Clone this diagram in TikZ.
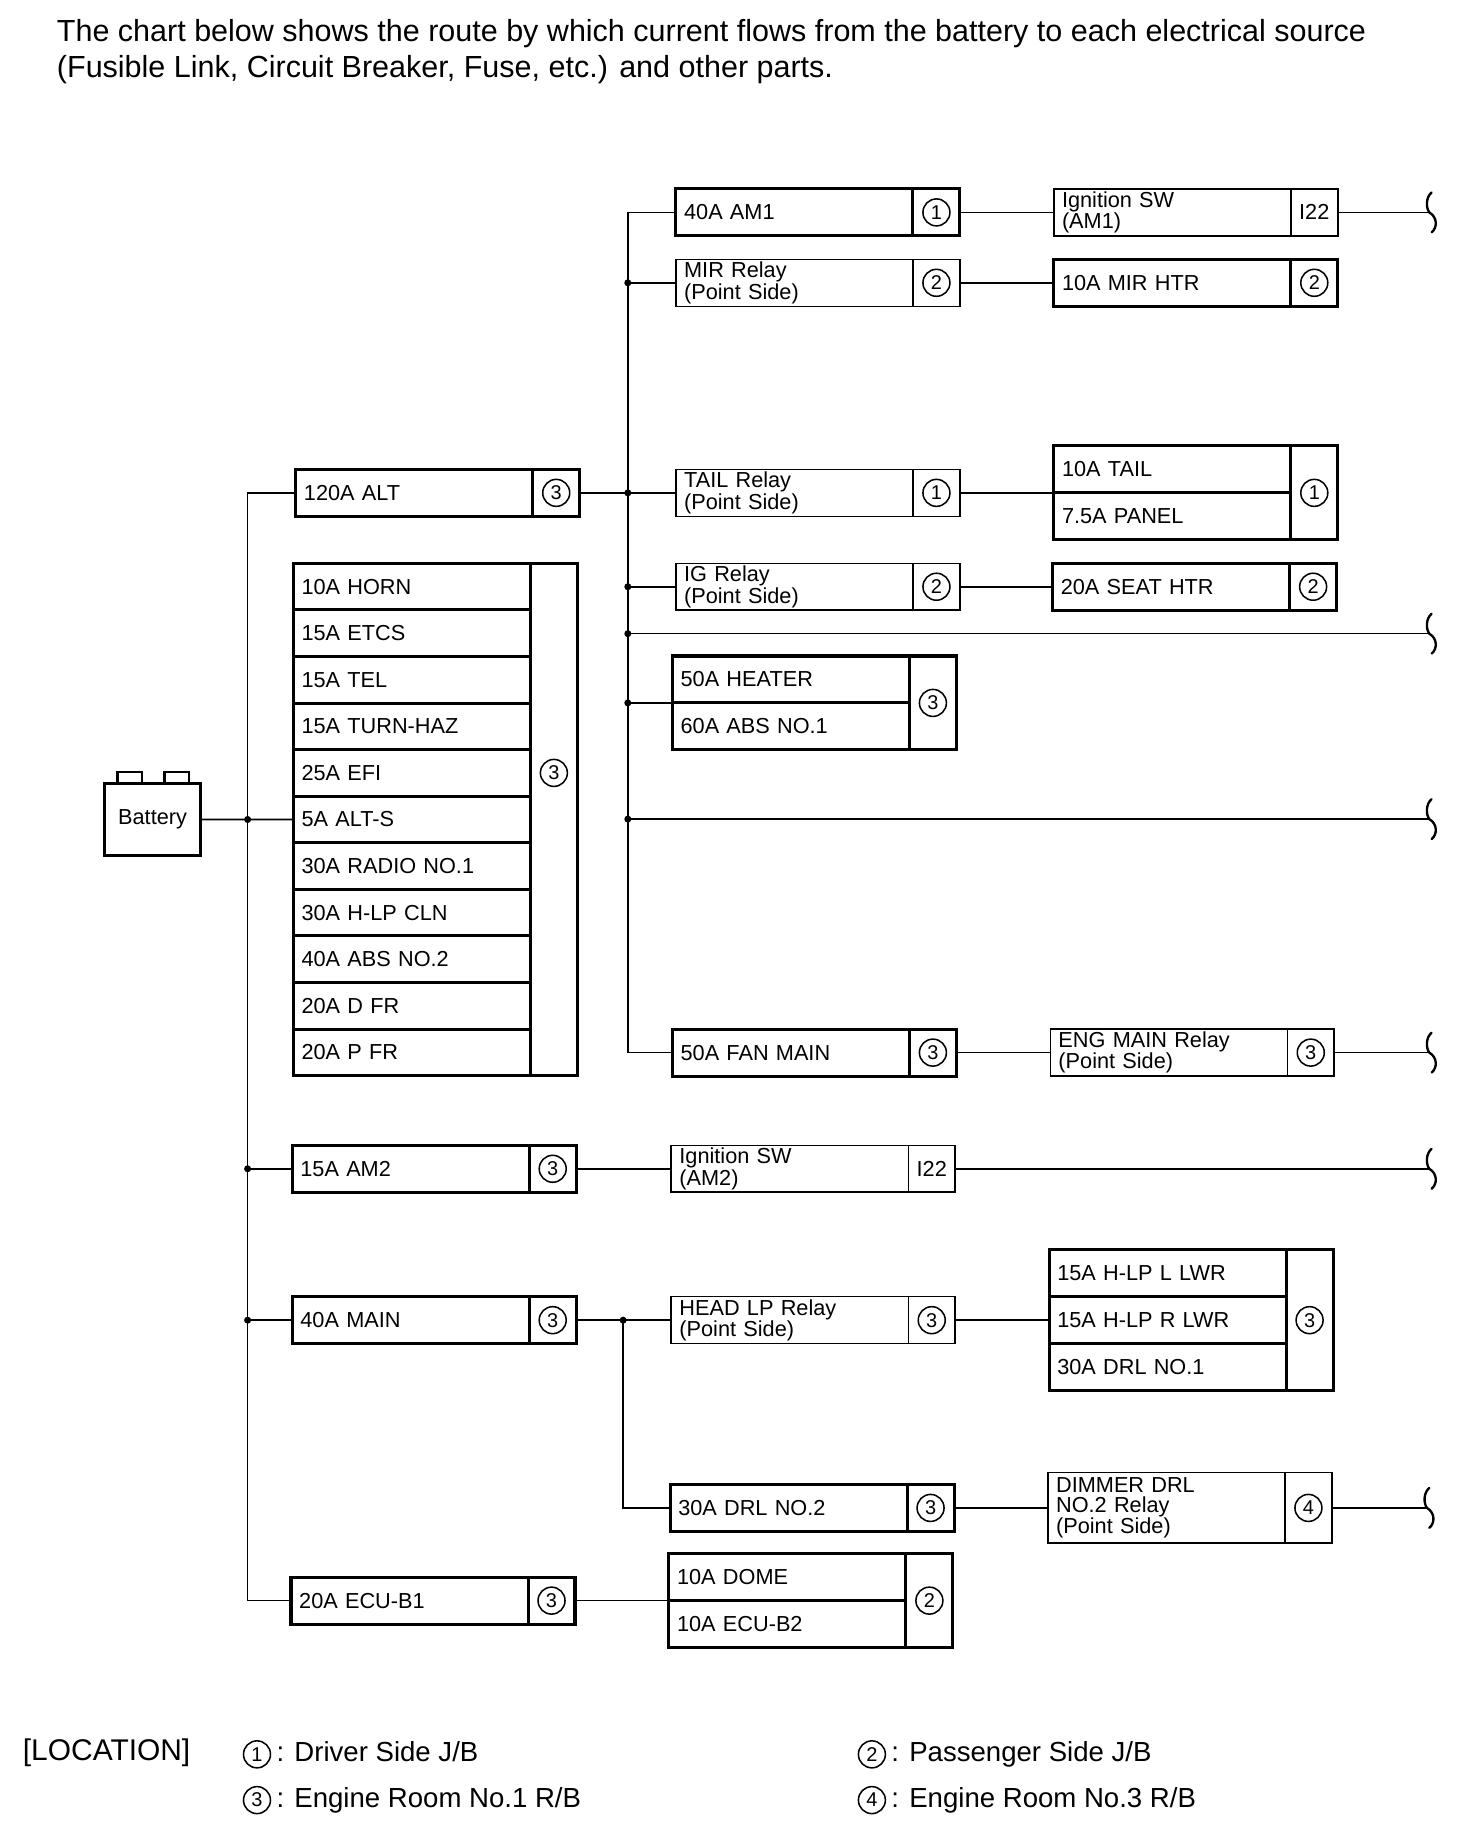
\documentclass[tikz,border=0pt]{standalone}
\usepackage{fontspec}
\setmainfont{Liberation Sans}
\usetikzlibrary{positioning}

\begin{document}
\begin{tikzpicture}[x=1pt, y=-1pt, every node/.style={font=\fontsize{18.5}{17}\selectfont},
  fuse/.style={draw, line width=2.6pt, outer sep=0pt, anchor=west, minimum height=40pt,
    text width=188pt, inner xsep=7pt, inner ysep=0.5pt, align=left},
  relay/.style={fuse, line width=1.3pt},
  cell/.style={draw, line width=2.6pt, outer sep=0pt, minimum width=40pt, minimum height=40pt, inner sep=0pt},
  rcell/.style={cell, line width=1.3pt},
  num/.style={circle, draw, line width=1.3pt, minimum size=23pt, inner sep=0pt, font=\fontsize{17}{17}\selectfont},
  wire/.style={line width=1.3pt},
  dot/.style={circle, fill, inner sep=0pt, minimum size=6pt},
  brc/.style={line width=2pt, line cap=round},
  big/.style={font=\fontsize{23.5}{25}\selectfont, text height=17pt, text depth=5pt}]
  \useasboundingbox (0,0) rectangle (1254,1568);
  % Heading
  \node[font=\fontsize{26}{31}\selectfont, anchor=base west] (head1) at (45,35)
    {The chart below shows the route by which current flows from the battery to each electrical source};
  \node[font=\fontsize{26}{31}\selectfont, anchor=base west] (head2) at (45,66)
    {(Fusible Link, Circuit Breaker, Fuse, etc.) and other parts.};

  % Battery
  \node[draw, line width=2.4pt, outer sep=0pt, minimum width=82pt, minimum height=61pt] (battery) at (130,698.35) {\raisebox{-3pt}{Battery}};
  \draw[line width=2.4pt] (battery.north west) ++(11,0) rectangle ++(21,-10);
  \draw[line width=2.4pt] (battery.north west) ++(51,0) rectangle ++(21,-10);

  % Left column
  \node[fuse] (alt) at (252,420) {120A ALT};
  \node[cell, right=0pt of alt] (altc) {};
  \node[num] (altn) at (altc) {3};
  \foreach \lbl [count=\i] in {10A HORN, 15A ETCS, 15A TEL, 15A TURN-HAZ, 25A EFI, 5A ALT-S,
      30A RADIO NO.1, 30A H-LP CLN, 40A ABS NO.2, 20A D FR, 20A P FR}
    \node[fuse, minimum height=39.7pt] (f\i) at (250,{460.15+39.7*\i}) {\lbl};
  \node[cell, anchor=north west, minimum height=436.7pt] (fc) at (f1.north east) {};
  \node[num] (fn) at (fc |- f5) {3};
  \node[fuse] (am2) at (249,996) {15A AM2};
  \node[cell, right=0pt of am2] (am2c) {};
  \node[num] (am2n) at (am2c) {3};
  \node[fuse] (main) at (249,1125) {40A MAIN};
  \node[cell, right=0pt of main] (mainc) {};
  \node[num] (mainn) at (mainc) {3};
  \node[fuse] (ecub1) at (248,1364) {20A ECU-B1};
  \node[cell, right=0pt of ecub1] (ecub1c) {};
  \node[num] (ecub1n) at (ecub1c) {3};

  % Middle column
  \node[fuse] (am1) at (576,181) {40A AM1};
  \node[cell, right=0pt of am1] (am1c) {};
  \node[num] (am1n) at (am1c) {1};
  \node[relay] (mir) at (576,241) {MIR Relay\\(Point Side)};
  \node[rcell, right=0pt of mir] (mirc) {};
  \node[num] (mirn) at (mirc) {2};
  \node[relay] (tail) at (576,420) {TAIL Relay\\(Point Side)};
  \node[rcell, right=0pt of tail] (tailc) {};
  \node[num] (tailn) at (tailc) {1};
  \node[relay] (ig) at (576,500) {IG Relay\\(Point Side)};
  \node[rcell, right=0pt of ig] (igc) {};
  \node[num] (ign) at (igc) {2};
  \node[fuse] (heat1) at (573,579) {50A HEATER};
  \node[fuse] (heat2) at (573,619) {60A ABS NO.1};
  \node[cell, anchor=north west, minimum height=80pt] (heatc) at (heat1.north east) {};
  \node[num] (heatn) at (heatc) {3};
  \node[fuse] (fan) at (573,897) {50A FAN MAIN};
  \node[cell, right=0pt of fan] (fanc) {};
  \node[num] (fann) at (fanc) {3};
  \node[relay] (ign2) at (572,996) {Ignition SW\\(AM2)};
  \node[rcell, right=0pt of ign2] (ign2c) {I22};
  \node[relay] (hlr) at (572,1125) {HEAD LP Relay\\(Point Side)};
  \node[rcell, right=0pt of hlr] (hlrc) {};
  \node[num] (hlrn) at (hlrc) {3};
  \node[fuse] (drl2) at (571,1285) {30A DRL NO.2};
  \node[cell, right=0pt of drl2] (drl2c) {};
  \node[num] (drl2n) at (drl2c) {3};
  \node[fuse] (dome) at (570,1344) {10A DOME};
  \node[fuse] (ecub2) at (570,1384) {10A ECU-B2};
  \node[cell, anchor=north west, minimum height=80pt] (domec) at (dome.north east) {};
  \node[num] (domen) at (domec) {2};

  % Right column
  \node[relay] (ign1) at (898,181) {Ignition SW\\(AM1)};
  \node[rcell, right=0pt of ign1] (ign1c) {I22};
  \node[fuse] (mirh) at (898,241) {10A MIR HTR};
  \node[cell, right=0pt of mirh] (mirhc) {};
  \node[num] (mirhn) at (mirhc) {2};
  \node[fuse] (tl1) at (898,400) {10A TAIL};
  \node[fuse] (tl2) at (898,440) {7.5A PANEL};
  \node[cell, anchor=north west, minimum height=80pt] (tlc) at (tl1.north east) {};
  \node[num] (tln) at (tlc) {1};
  \node[fuse] (seat) at (897,500) {20A SEAT HTR};
  \node[cell, right=0pt of seat] (seatc) {};
  \node[num] (seatn) at (seatc) {2};
  \node[relay] (eng) at (895,897) {ENG MAIN Relay\\(Point Side)};
  \node[rcell, right=0pt of eng] (engc) {};
  \node[num] (engn) at (engc) {3};
  \node[fuse] (hl1) at (894,1085) {15A H-LP L LWR};
  \node[fuse] (hl2) at (894,1125) {15A H-LP R LWR};
  \node[fuse] (hl3) at (894,1165) {30A DRL NO.1};
  \node[cell, anchor=north west, minimum height=120pt] (hlc) at (hl1.north east) {};
  \node[num] (hln) at (hlc) {3};
  \node[relay, minimum height=60pt] (dim) at (893,1285) {DIMMER DRL\\NO.2 Relay\\(Point Side)};
  \node[rcell, minimum height=60pt, right=0pt of dim] (dimc) {};
  \node[num] (dimn) at (dimc) {4};

  % Open ends
  \foreach \x/\y [count=\i] in {1218/181, 1218/540, 1218/698, 1218/897, 1218/996, 1216/1285} {
    \coordinate (b\i) at (\x,\y);
    \draw[brc] (\x+2,\y-17) .. controls (\x-3,\y-13) and (\x-3,\y-4) .. (\x,\y)
      .. controls (\x+7,\y+4) and (\x+7,\y+13) .. (\x+2,\y+17);
  }

  % Wiring
  \coordinate (bl) at (211,698.35);
  \coordinate (mb) at (535,420);
  \coordinate (hj) at (531,1125);
  \draw[wire] (alt) -| (bl) |- (ecub1);
  \draw[wire] (battery) -- (f6);
  \draw[wire] (bl |- am2) -- (am2);
  \draw[wire] (bl |- main) -- (main);
  \draw[wire] (am1) -| (mb) |- (fan);
  \draw[wire] (altc) -- (tail);
  \draw[wire] (mb |- mir) -- (mir);
  \draw[wire] (mb |- ig) -- (ig);
  \draw[wire] (mb |- heat1.south west) -- (heat1.south west);
  \draw[wire] (mb |- b2) -- (b2);
  \draw[wire] (mb |- b3) -- (b3);
  \draw[wire] (am1c) -- (ign1);
  \draw[wire] (ign1c) -- (b1);
  \draw[wire] (mirc) -- (mirh);
  \draw[wire] (tailc) -- (tl1.south west);
  \draw[wire] (igc) -- (seat);
  \draw[wire] (fanc) -- (eng);
  \draw[wire] (engc) -- (b4);
  \draw[wire] (am2c) -- (ign2);
  \draw[wire] (ign2c) -- (b5);
  \draw[wire] (mainc) -- (hlr);
  \draw[wire] (hj) |- (drl2);
  \draw[wire] (hlrc) -- (hl2);
  \draw[wire] (drl2c) -- (dim);
  \draw[wire] (dimc) -- (b6);
  \draw[wire] (ecub1c) -- (dome.south west);
  \foreach \p in {bl, bl |- am2, bl |- main, mb, mb |- mir, mb |- ig, mb |- heat1.south west, mb |- b2, mb |- b3, hj}
    \node[dot] at (\p) {};

  % Location key
  \node[big, font=\fontsize{25.5}{25}\selectfont, anchor=west] (lockey) at (16,1494) {[LOCATION]};
  \node[num, minimum size=23pt] (k1) at (219,1495) {1};
  \node[big, right=1pt of k1] (k1t) {: Driver Side J/B};
  \node[num, minimum size=23pt] (k2) at (743,1495) {2};
  \node[big, right=1pt of k2] (k2t) {: Passenger Side J/B};
  \node[num, minimum size=23pt] (k3) at (219,1534) {3};
  \node[big, right=1pt of k3] (k3t) {: Engine Room No.1 R/B};
  \node[num, minimum size=23pt] (k4) at (743,1534) {4};
  \node[big, right=1pt of k4] (k4t) {: Engine Room No.3 R/B};
\end{tikzpicture}
\end{document}
